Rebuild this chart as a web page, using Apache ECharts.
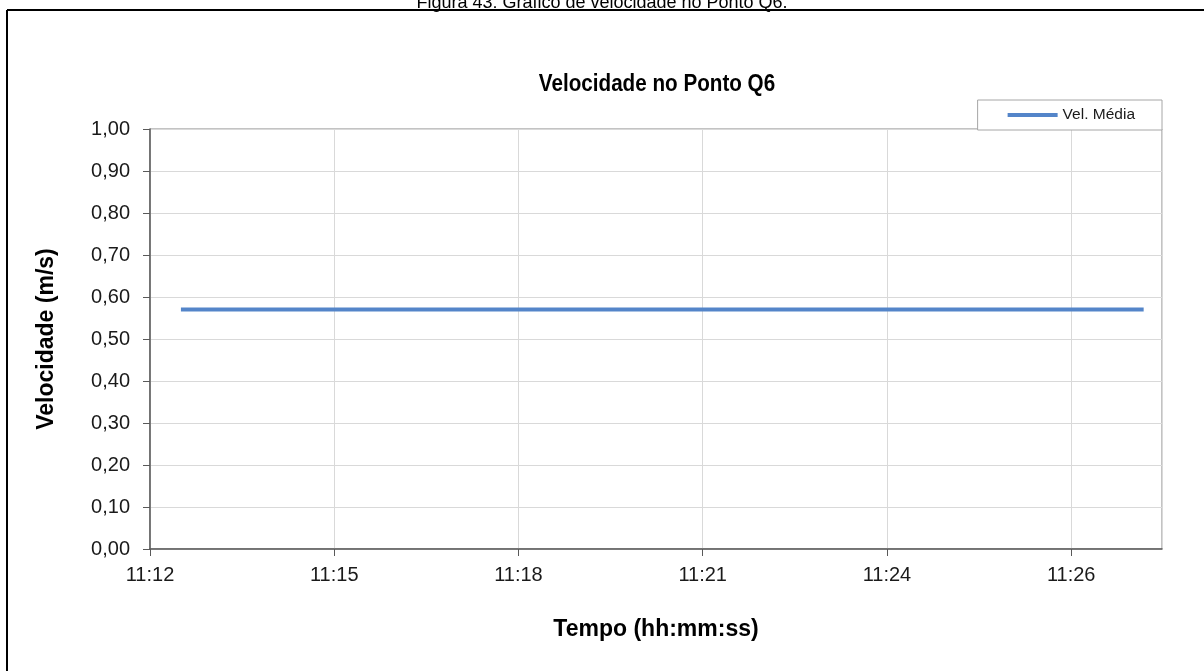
<!DOCTYPE html>
<html>
<head>
<meta charset="utf-8">
<script src="https://cdn.jsdelivr.net/npm/echarts@6/dist/echarts.min.js"></script>
<style>
html,body{margin:0;padding:0;background:#fff;}
#c{width:1204px;height:671px;}
</style>
</head>
<body>
<div id="c"></div>
<script>
// ---- data ----
const seriesName = 'Vel. Média';
const times = ['11:12:29', '11:27:32'];
const velocities = [0.57, 0.57];
const xTickLabels = ['11:12', '11:15', '11:18', '11:21', '11:24', '11:26'];
const xMinLabel = '11:12';
const xTickStep = 2.88;     // minutes between ticks
const xSpan = 15.82;        // minutes shown on the axis

function toMin(t) {
  const p = t.split(':').map(Number);
  return p[0] * 60 + p[1] + (p[2] || 0) / 60;
}
const xMin = toMin(xMinLabel);
const points = times.map((t, i) => [toMin(t), velocities[i]]);

const FONT = 'Liberation Sans, Arial, sans-serif';
const chart = echarts.init(document.getElementById('c'));
chart.setOption({
  animation: false,
  backgroundColor: '#fff',
  legend: {
    right: 42, top: 100,
    data: [{name: seriesName, icon: 'rect'}],
    itemWidth: 50, itemHeight: 4, itemGap: 0,
    borderColor: '#a6a6a6', borderWidth: 1, borderRadius: 0,
    padding: [7, 27, 7, 30],
    backgroundColor: '#fff',
    textStyle: {fontFamily: FONT, fontSize: 15.5, color: '#1a1a1a', lineHeight: 16}
  },
  graphic: [
    {type: 'text', left: 'center', top: -6, style: {text: 'Figura 43: Gráfico de velocidade no Ponto Q6.', font: '18px ' + FONT, fill: '#000'}},
    {type: 'text', x: 657, y: 72, scaleX: 0.86, scaleY: 1,
     style: {text: 'Velocidade no Ponto Q6', font: 'bold 24px ' + FONT, fill: '#000', align: 'center', verticalAlign: 'top'}},
    {type: 'line', shape: {x1: 7, y1: 10, x2: 1204, y2: 10}, style: {stroke: '#000', lineWidth: 2}},
    {type: 'line', shape: {x1: 7, y1: 10, x2: 7, y2: 671}, style: {stroke: '#000', lineWidth: 2}}
  ],
  grid: {left: 150, right: 42, top: 129, bottom: 122, show: true, borderColor: '#868686', borderWidth: 1},
  xAxis: {
    type: 'value', min: xMin, max: xMin + xSpan, interval: xTickStep,
    name: 'Tempo (hh:mm:ss)', nameLocation: 'middle', nameGap: 69,
    nameTextStyle: {fontFamily: FONT, fontSize: 23, fontWeight: 'bold', color: '#000'},
    axisLine: {lineStyle: {color: '#595959', width: 1.5}},
    axisTick: {show: true, length: 7, lineStyle: {color: '#595959'}},
    splitLine: {show: true, lineStyle: {color: '#d9d9d9', width: 1}},
    axisLabel: {
      showMaxLabel: false, margin: 16,
      fontFamily: FONT, fontSize: 20, color: '#1a1a1a',
      formatter: function (v) {
        const k = (v - xMin) / xTickStep;
        const i = Math.round(k);
        if (Math.abs(k - i) > 0.01) return '';
        return xTickLabels[i] || '';
      }
    }
  },
  yAxis: {
    type: 'value', min: 0, max: 1, interval: 0.1,
    name: 'Velocidade (m/s)', nameLocation: 'middle', nameGap: 92, nameRotate: 90,
    nameTextStyle: {fontFamily: FONT, fontSize: 23, fontWeight: 'bold', color: '#000'},
    axisLine: {show: true, lineStyle: {color: '#595959', width: 1.5}},
    axisTick: {show: true, length: 7, lineStyle: {color: '#595959'}},
    splitLine: {show: true, lineStyle: {color: '#d9d9d9', width: 1}},
    axisLabel: {
      margin: 20, fontFamily: FONT, fontSize: 20, color: '#1a1a1a',
      formatter: v => v.toFixed(2).replace('.', ',')
    }
  },
  series: [{
    name: seriesName, type: 'line', data: points,
    showSymbol: false, symbol: 'none',
    lineStyle: {color: '#5485c9', width: 4},
    itemStyle: {color: '#5485c9'}
  }]
});
</script>
</body>
</html>
